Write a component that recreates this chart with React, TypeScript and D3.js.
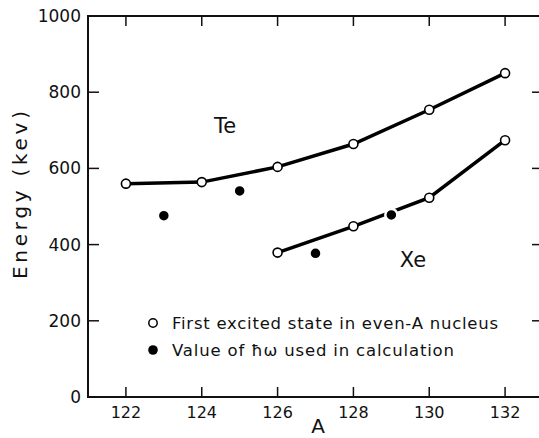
import React from "react";
import * as d3 from "d3";

const xTicks = [122, 124, 126, 128, 130, 132];
const yTicks = [0, 200, 400, 600, 800, 1000];

const teA = [122, 124, 126, 128, 130, 132];
const teE = [560, 564, 604, 664, 754, 850];

const xeA = [126, 128, 130, 132];
const xeE = [379, 448, 523, 674];

const hwA = [123, 125, 127, 129];
const hwE = [476, 541, 377, 478];

const legendLabels = [
  "First excited state in even-A nucleus",
  "Value of \u0127\u03c9 used in calculation",
];

const W = 539;
const H = 438;
const left = 88, right = 543, top = 16, bottom = 397;
const FONT = "'DejaVu Sans', sans-serif";

export default function App() {
  const x = d3.scaleLinear().domain([121, 133]).range([left, right]);
  const y = d3.scaleLinear().domain([0, 1000]).range([bottom, top]);
  const line = d3
    .line<[number, number]>()
    .x((d) => x(d[0]))
    .y((d) => y(d[1]));
  const te: [number, number][] = teA.map((a, i) => [a, teE[i]]);
  const xe: [number, number][] = xeA.map((a, i) => [a, xeE[i]]);

  return (
    <svg
      width={W}
      height={H}
      style={{ position: "absolute", left: 0, top: 0, background: "#fff" }}
      fontFamily={FONT}
    >
      <rect x={0} y={0} width={W} height={H} fill="#fff" />
      {/* frame */}
      <rect
        x={left}
        y={top}
        width={right - left}
        height={bottom - top}
        fill="none"
        stroke="#111"
        strokeWidth={2}
      />
      {/* x ticks */}
      {xTicks.map((t) => (
        <g key={"x" + t}>
          <line x1={x(t)} x2={x(t)} y1={bottom} y2={bottom - 10} stroke="#111" strokeWidth={1.5} />
          <line x1={x(t)} x2={x(t)} y1={top} y2={top + 10} stroke="#111" strokeWidth={1.5} />
          <text x={x(t)} y={418} textAnchor="middle" fontSize={16} fill="#111">
            {t}
          </text>
        </g>
      ))}
      {/* y ticks */}
      {yTicks.map((t) => (
        <g key={"y" + t}>
          {t > 0 && t < 1000 && (
            <>
              <line x1={left} x2={left + 11} y1={y(t)} y2={y(t)} stroke="#111" strokeWidth={1.5} />
              <line x1={right} x2={right - 11} y1={y(t)} y2={y(t)} stroke="#111" strokeWidth={1.5} />
            </>
          )}
          <text x={81} y={y(t) + 6} textAnchor="end" fontSize={17} fill="#111">
            {t}
          </text>
        </g>
      ))}
      {/* axis titles */}
      <text
        transform={`translate(27,195) rotate(-90)`}
        textAnchor="middle"
        fontSize={20}
        textLength={168}
        lengthAdjust="spacing"
        fill="#111"
      >
        Energy (kev)
      </text>
      <text x={318} y={433} textAnchor="middle" fontSize={20} fill="#111">
        A
      </text>
      {/* lines */}
      <path d={line(te) || ""} fill="none" stroke="#000" strokeWidth={3.5} />
      <path d={line(xe) || ""} fill="none" stroke="#000" strokeWidth={3.5} />
      {/* open points */}
      {[...te, ...xe].map((d, i) => (
        <circle key={"o" + i} cx={x(d[0])} cy={y(d[1])} r={4.5} fill="#fff" stroke="#000" strokeWidth={1.6} />
      ))}
      {/* filled points */}
      {hwA.map((a, i) => (
        <circle key={"f" + i} cx={x(a)} cy={y(hwE[i])} r={6} fill="#000" stroke="#fff" strokeWidth={2.5} />
      ))}
      {/* labels */}
      <text x={225} y={133} textAnchor="middle" fontSize={21} fill="#111">
        Te
      </text>
      <text x={413} y={267} textAnchor="middle" fontSize={21} fill="#111">
        Xe
      </text>
      {/* legend */}
      <circle cx={153} cy={323} r={4.2} fill="#fff" stroke="#000" strokeWidth={1.5} />
      <text x={172} y={329} fontSize={16.5} fill="#111" textLength={326} lengthAdjust="spacing">
        {legendLabels[0]}
      </text>
      <circle cx={153} cy={350} r={4.8} fill="#000" />
      <text x={172} y={356} fontSize={16.5} fill="#111" textLength={282} lengthAdjust="spacing">
        {legendLabels[1]}
      </text>
    </svg>
  );
}
